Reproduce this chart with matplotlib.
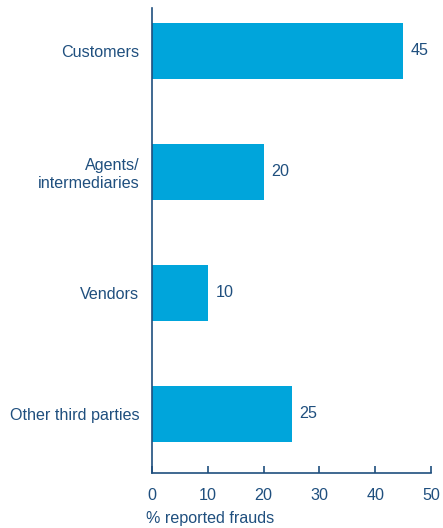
import matplotlib.pyplot as plt

# Share of reported frauds by perpetrator type
categories = ["Customers", "Agents/\nintermediaries", "Vendors", "Other third parties"]
values = [45, 20, 10, 25]
xticks = [0, 10, 20, 30, 40, 50]

bar_color = "#00A5DB"
text_color = "#1F4F7E"

plt.rcParams["font.family"] = ["Liberation Sans", "DejaVu Sans"]
plt.rcParams["font.size"] = 11.6

fig = plt.figure(figsize=(4.43, 5.28), dpi=100)
ax = fig.add_axes([152 / 443, 1 - 473 / 528, 279 / 443, 465 / 528])

pos = list(range(len(categories)))
ax.barh(pos, values, height=0.46, color=bar_color)

for y, v in zip(pos, values):
    ax.text(v + 1.4, y, str(v), va="center", ha="left", color=text_color)

ax.set_xlim(0, 50)
ax.set_ylim(3.49, -0.355)
ax.set_xticks(xticks)
ax.set_yticks(pos)
ax.set_yticklabels(categories, color=text_color, linespacing=1.2)
ax.tick_params(axis="y", length=0, pad=9)
ax.tick_params(axis="x", direction="in", length=5, width=1.2, color=text_color,
               labelcolor=text_color, pad=11)

for side in ["top", "right"]:
    ax.spines[side].set_visible(False)
for side in ["left", "bottom"]:
    ax.spines[side].set_color(text_color)
    ax.spines[side].set_linewidth(1.2)

fig.text(146 / 443, 1 - 519 / 528, "% reported frauds", color=text_color,
         ha="left", va="center")

fig.savefig("out.png", dpi=100)
